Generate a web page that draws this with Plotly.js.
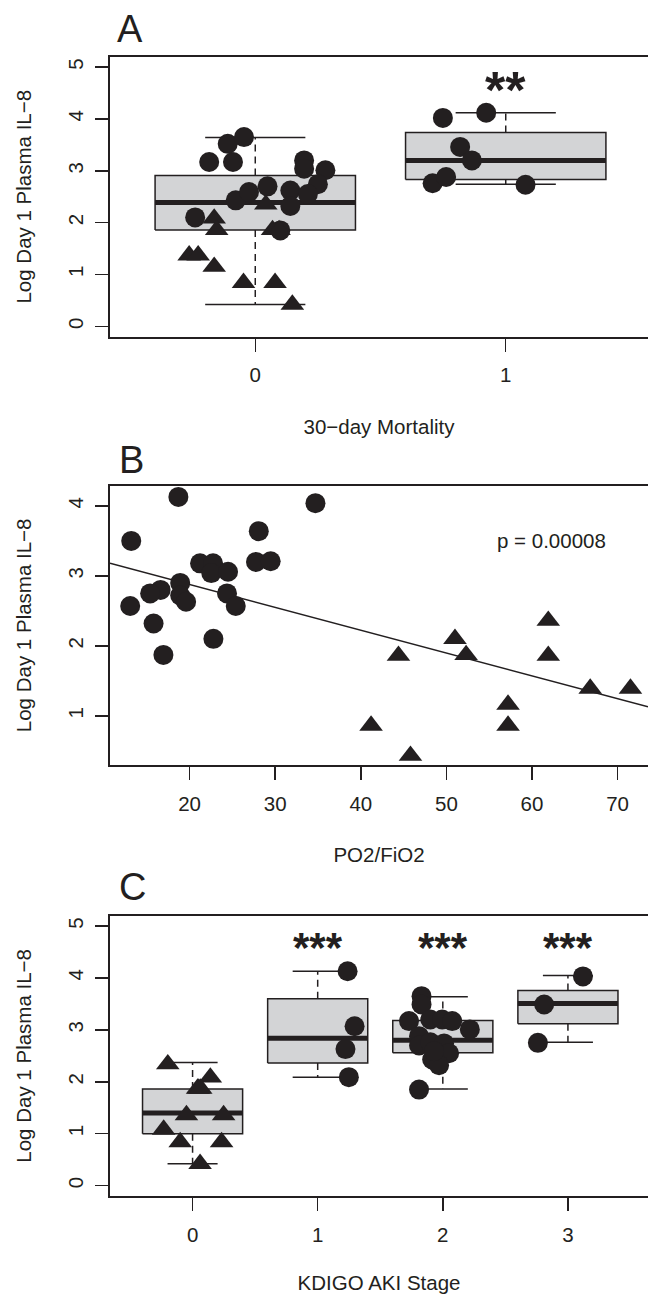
<!DOCTYPE html>
<html>
<head>
<meta charset="utf-8">
<script src="https://cdn.plot.ly/plotly-3.0.1.min.js"></script>
<style>html,body{margin:0;padding:0;background:#fff;}#chart{width:648px;height:1294px;}</style>
</head>
<body>
<div id="chart"></div>
<script>
// ---------- Panel A: 30-day mortality ----------
const A_groups = [0, 1];
const A_tickLabels = ['0', '1'];
const A_q1 = [1.86, 2.83];
const A_med = [2.39, 3.20];
const A_q3 = [2.91, 3.74];
const A_lo = [0.42, 2.74];
const A_hi = [3.64, 4.12];
const A_circX = [-0.184, -0.11, -0.045, -0.089, -0.24, -0.078, -0.025, 0.049, 0.195, 0.195, 0.28, 0.25, 0.14, 0.21, 0.14, 0.10,
                 0.749, 0.922, 0.818, 0.865, 0.708, 0.762, 1.079];
const A_circY = [3.17, 3.52, 3.65, 3.17, 2.10, 2.43, 2.59, 2.70, 3.20, 3.04, 3.01, 2.74, 2.62, 2.55, 2.32, 1.85,
                 4.02, 4.12, 3.46, 3.20, 2.76, 2.88, 2.73];
const A_triX = [-0.264, -0.228, -0.164, -0.164, -0.154, -0.047, 0.079, 0.148, 0.042, 0.069, 0.095];
const A_triY = [1.37, 1.37, 1.15, 2.08, 1.86, 0.84, 0.84, 0.42, 2.35, 1.86, 1.86];
const A_sig = ['**'];
const A_sigX = [1];

// ---------- Panel B: PO2/FiO2 ----------
const B_circX = [18.69, 34.70, 13.18, 28.08, 27.76, 29.47, 21.22, 22.74, 22.53, 24.49, 18.90, 16.61, 15.39, 24.37, 18.90, 19.59, 25.39, 13.06, 15.79, 22.78, 16.94];
const B_circY = [4.13, 4.04, 3.50, 3.64, 3.20, 3.21, 3.18, 3.18, 3.04, 3.06, 2.90, 2.80, 2.75, 2.75, 2.72, 2.63, 2.57, 2.57, 2.32, 2.10, 1.87];
const B_triX = [44.4, 51.0, 52.3, 61.9, 61.9, 66.8, 71.5, 57.2, 57.2, 41.2, 45.8];
const B_triY = [1.86, 2.10, 1.87, 2.36, 1.86, 1.39, 1.39, 1.16, 0.86, 0.86, 0.43];
const B_xTicks = [20, 30, 40, 50, 60, 70];
const B_yTicks = [1, 2, 3, 4];
const B_pText = 'p = 0.00008';

// ---------- Panel C: KDIGO AKI stage ----------
const C_groups = [0, 1, 2, 3];
const C_tickLabels = ['0', '1', '2', '3'];
const C_q1 = [1.00, 2.36, 2.56, 3.12];
const C_med = [1.40, 2.84, 2.80, 3.51];
const C_q3 = [1.86, 3.60, 3.18, 3.76];
const C_lo = [0.42, 2.09, 1.86, 2.76];
const C_hi = [2.37, 4.13, 3.64, 4.05];
const C_circX = [1.239, 1.295, 1.222, 1.249,
                 1.83, 1.83, 1.73, 1.90, 1.995, 2.075, 2.216, 1.81, 1.81, 1.90, 2.01, 2.05, 1.915, 1.97, 1.81, 1.93,
                 3.12, 2.81, 2.76];
const C_circY = [4.13, 3.07, 2.63, 2.09,
                 3.65, 3.49, 3.17, 3.20, 3.20, 3.17, 3.01, 2.88, 2.70, 2.76, 2.74, 2.55, 2.43, 2.32, 1.85, 2.59,
                 4.03, 3.49, 2.75];
const C_triX = [-0.198, 0.142, 0.05, 0.04, 0.065, -0.049, 0.248, -0.231, -0.099, 0.232, 0.06];
const C_triY = [2.34, 2.085, 1.87, 1.87, 1.87, 1.36, 1.36, 1.08, 0.84, 0.84, 0.42];
const C_sig = ['***', '***', '***'];
const C_sigX = [1, 2, 3];

// ---------- styling ----------
const INK = '#231f20';
const FILL = '#d3d4d6';
const FONT = 'Liberation Sans, Arial, Helvetica, sans-serif';
const CIRC = 20, TRI = 20.5;

const traces = [];

function addBoxes(groups, q1, med, q3, lo, hi, xa, ya) {
  const hw = 0.4, cw = 0.2;
  groups.forEach((g, i) => {
    traces.push({x: [g - hw, g + hw, g + hw, g - hw, g - hw], y: [q1[i], q1[i], q3[i], q3[i], q1[i]],
      xaxis: xa, yaxis: ya, mode: 'lines', fill: 'toself', fillcolor: FILL,
      line: {color: INK, width: 1.5}, hoverinfo: 'skip', showlegend: false});
    traces.push({x: [g, g, null, g, g], y: [q3[i], hi[i], null, q1[i], lo[i]],
      xaxis: xa, yaxis: ya, mode: 'lines', line: {color: INK, width: 1.5, dash: '7px,5px'},
      hoverinfo: 'skip', showlegend: false});
    traces.push({x: [g - cw, g + cw, null, g - cw, g + cw], y: [hi[i], hi[i], null, lo[i], lo[i]],
      xaxis: xa, yaxis: ya, mode: 'lines', line: {color: INK, width: 1.5},
      hoverinfo: 'skip', showlegend: false});
    traces.push({x: [g - hw, g + hw], y: [med[i], med[i]],
      xaxis: xa, yaxis: ya, mode: 'lines', line: {color: INK, width: 5},
      hoverinfo: 'skip', showlegend: false});
  });
}
function addPoints(x, y, sym, size, xa, ya) {
  traces.push({x: x, y: y, xaxis: xa, yaxis: ya, mode: 'markers', type: 'scatter',
    marker: {symbol: sym, size: size, color: INK, line: {width: 0}}, showlegend: false});
}

addBoxes(A_groups, A_q1, A_med, A_q3, A_lo, A_hi, 'x', 'y');
addPoints(A_circX, A_circY, 'circle', CIRC, 'x', 'y');
addPoints(A_triX, A_triY, 'triangle-up', TRI, 'x', 'y');

// regression line for panel B (least squares on all points)
const bx = B_circX.concat(B_triX), by = B_circY.concat(B_triY);
const n = bx.length;
const mx = bx.reduce((a, b) => a + b, 0) / n, my = by.reduce((a, b) => a + b, 0) / n;
let sxy = 0, sxx = 0;
for (let i = 0; i < n; i++) { sxy += (bx[i] - mx) * (by[i] - my); sxx += (bx[i] - mx) ** 2; }
const slope = sxy / sxx, icpt = my - slope * mx;
const B_xRange = [10.7, 73.55];
traces.push({x: B_xRange, y: B_xRange.map(v => icpt + slope * v), xaxis: 'x2', yaxis: 'y2',
  mode: 'lines', line: {color: INK, width: 1.5}, hoverinfo: 'skip', showlegend: false});
addPoints(B_circX, B_circY, 'circle', CIRC, 'x2', 'y2');
addPoints(B_triX, B_triY, 'triangle-up', TRI, 'x2', 'y2');

addBoxes(C_groups, C_q1, C_med, C_q3, C_lo, C_hi, 'x3', 'y3');
addPoints(C_circX, C_circY, 'circle', CIRC, 'x3', 'y3');
addPoints(C_triX, C_triY, 'triangle-up', TRI, 'x3', 'y3');

const W = 648, H = 1294;
const px = v => v / W, py = v => 1 - v / H;
const left = px(110);

function xax(range, tickvals, ticktext, title, anchor) {
  return {domain: [left, 1], range: range, anchor: anchor, tickmode: 'array', tickvals: tickvals,
    ticktext: ticktext, showgrid: false, zeroline: false, showline: true, mirror: true,
    linecolor: INK, linewidth: 2, ticks: 'outside', ticklen: 13, tickwidth: 1.5, tickcolor: INK,
    tickfont: {family: FONT, size: 20.5, color: INK}, ticklabelstandoff: 6,
    title: {text: title, font: {family: FONT, size: 20.5, color: INK}, standoff: 34}, fixedrange: true};
}
function yax(range, domainPx, tickvals, title, anchor) {
  return {domain: [py(domainPx[1]), py(domainPx[0])], range: range, anchor: anchor, tickmode: 'array',
    tickvals: tickvals, ticktext: tickvals.map(String), showgrid: false, zeroline: false,
    showline: true, mirror: false, linecolor: INK, linewidth: 2, ticks: 'outside', ticklen: 13,
    tickwidth: 1.5, tickcolor: INK, tickangle: -90, ticklabelstandoff: 4,
    tickfont: {family: FONT, size: 20.5, color: INK},
    title: {text: title, font: {family: FONT, size: 20.5, color: INK}, standoff: 27}, fixedrange: true};
}

const ytitle = 'Log Day 1 Plasma IL\u22128';
const layout = {
  width: W, height: H, margin: {l: 0, r: 0, t: 0, b: 0}, paper_bgcolor: '#fff', plot_bgcolor: '#fff',
  showlegend: false, font: {family: FONT, color: INK},
  xaxis: xax([-0.58, 1.568], A_groups, A_tickLabels, '30\u2212day Mortality', 'y'),
  yaxis: yax([-0.2, 5.2], [56.7, 336.7], [0, 1, 2, 3, 4, 5], ytitle, 'x'),
  xaxis2: xax(B_xRange, B_xTicks, B_xTicks.map(String), 'PO2/FiO2', 'y2'),
  yaxis2: yax([0.296, 4.29], [485.7, 765], B_yTicks, ytitle, 'x2'),
  xaxis3: xax([-0.66, 3.64], C_groups, C_tickLabels, 'KDIGO AKI Stage', 'y3'),
  yaxis3: yax([-0.2, 5.2], [915.7, 1196], [0, 1, 2, 3, 4, 5], ytitle, 'x3'),
  annotations: [
    {text: 'A', xref: 'paper', yref: 'paper', x: px(130), y: py(29), showarrow: false, xanchor: 'center', yanchor: 'middle', font: {family: FONT, size: 38, color: INK}},
    {text: 'B', xref: 'paper', yref: 'paper', x: px(131), y: py(460), showarrow: false, xanchor: 'center', yanchor: 'middle', font: {family: FONT, size: 38, color: INK}},
    {text: 'C', xref: 'paper', yref: 'paper', x: px(132), y: py(887), showarrow: false, xanchor: 'center', yanchor: 'middle', font: {family: FONT, size: 38, color: INK}},
    {text: B_pText, xref: 'x2', yref: 'y2', x: 62.3, y: 3.51, showarrow: false, xanchor: 'center', yanchor: 'middle', font: {family: FONT, size: 20.5, color: INK}}
  ].concat(A_sig.map((s, i) => ({text: s, xref: 'x', yref: 'y', x: A_sigX[i], y: 4.56, showarrow: false, xanchor: 'center', yanchor: 'middle', font: {family: FONT, size: 52, weight: 'bold', color: INK}})))
   .concat(C_sig.map((s, i) => ({text: s, xref: 'x3', yref: 'y3', x: C_sigX[i], y: 4.58, showarrow: false, xanchor: 'center', yanchor: 'middle', font: {family: FONT, size: 42, weight: 'bold', color: INK}})))
};

Plotly.newPlot('chart', traces, layout, {staticPlot: true, displayModeBar: false});
</script>
</body>
</html>
